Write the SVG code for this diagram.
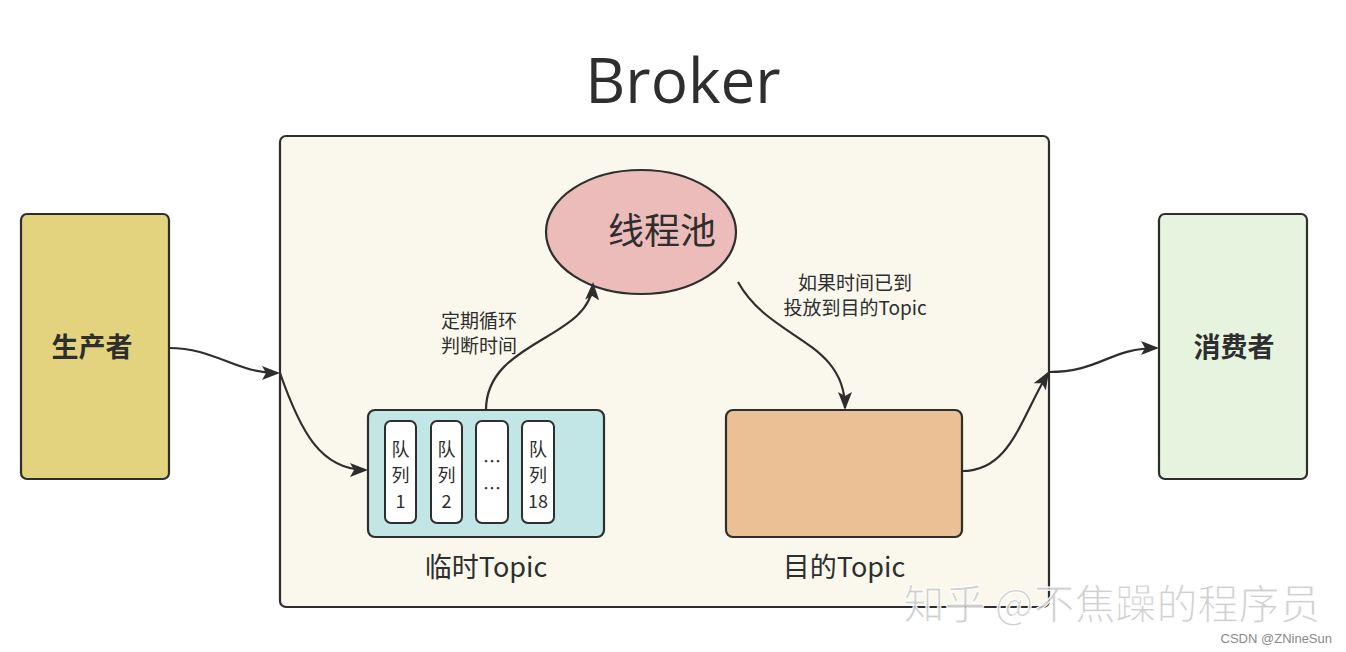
<svg xmlns="http://www.w3.org/2000/svg" width="1346" height="652" viewBox="0 0 1346 652">
<style>
.box{stroke:#2e2e2e;stroke-width:2.2}
.t{font-family:"Noto Sans CJK SC","Noto Sans",sans-serif;fill:#2e2e2e}
.c{fill:none;stroke:#2e2e2e;stroke-width:2.2}
.q{fill:#fff;stroke:#2e2e2e;stroke-width:2}
</style>
<defs>
<marker id="ah" viewBox="0 0 18 14" refX="16" refY="7" markerWidth="18" markerHeight="14" markerUnits="userSpaceOnUse" orient="auto">
<path d="M0,0 L18,7 L0,14 L4,7 z" fill="#2e2e2e"/>
</marker>
</defs>
<rect width="1346" height="652" fill="#fff"/>
<text x="683" y="103" font-size="62" text-anchor="middle" fill="#2e2e2e" font-family="'Open Sans','Noto Sans',sans-serif">Broker</text>
<g id="broker">
<rect class="box" x="280" y="136" width="769" height="471" rx="6" fill="#faf8ec"/>
</g>
<g id="producer">
<rect class="box" x="21" y="214" width="148" height="265" rx="6" fill="#e3d37e"/>
<text class="t" x="92" y="357" font-size="27" font-weight="bold" text-anchor="middle">生产者</text>
</g>
<g id="consumer">
<rect class="box" x="1159" y="214" width="148" height="265" rx="6" fill="#e6f3df"/>
<text class="t" x="1234" y="357" font-size="27" font-weight="bold" text-anchor="middle">消费者</text>
</g>
<g id="threadpool">
<ellipse class="box" cx="641" cy="232" rx="95" ry="62" fill="#ecbcba"/>
<text class="t" x="662" y="244" font-size="36" text-anchor="middle">线程池</text>
</g>
<g id="tempTopic">
<rect class="box" x="368" y="410" width="236" height="127" rx="7" fill="#c1e6e5"/>
<rect class="q" x="385" y="421" width="31" height="102" rx="6"/>
<rect class="q" x="431" y="421" width="31" height="102" rx="6"/>
<rect class="q" x="476" y="421" width="32" height="102" rx="6"/>
<rect class="q" x="522" y="421" width="32" height="102" rx="6"/>
<g class="t" font-size="18" text-anchor="middle">
<text x="400.5" y="456">队</text><text x="400.5" y="482">列</text><text x="400.5" y="508">1</text>
<text x="446.5" y="456">队</text><text x="446.5" y="482">列</text><text x="446.5" y="508">2</text>
<text x="492" y="468">…</text><text x="492" y="495">…</text>
<text x="538" y="456">队</text><text x="538" y="482">列</text><text x="538" y="508">18</text>
</g>
<text class="t" x="486" y="577" font-size="27" text-anchor="middle">临时Topic</text>
</g>
<g id="targetTopic">
<rect class="box" x="726" y="410" width="236" height="127" rx="7" fill="#ebc094"/>
<text class="t" x="844" y="577" font-size="27" text-anchor="middle">目的Topic</text>
</g>
<g id="connectors">
<path class="c" d="M169,348 C215,348 235,373 278,373" marker-end="url(#ah)"/>
<path class="c" d="M280,373 C300,430 320,470 366,470" marker-end="url(#ah)"/>
<path class="c" d="M486,410 C486,340 590,340 593,284" marker-end="url(#ah)"/>
<path class="c" d="M738,282 C770,340 845,340 845,408" marker-end="url(#ah)"/>
<path class="c" d="M962,471 C1010,471 1020,420 1048,373" marker-end="url(#ah)"/>
<path class="c" d="M1049,372 C1100,372 1110,348 1157,348" marker-end="url(#ah)"/>
</g>
<g id="labels" class="t" font-size="19">
<text x="479" y="328" text-anchor="middle">定期循环</text>
<text x="479" y="353" text-anchor="middle">判断时间</text>
<text x="855" y="290" text-anchor="middle">如果时间已到</text>
<text x="855" y="315" text-anchor="middle">投放到目的Topic</text>
</g>
<g id="watermark">
<text x="1112" y="619" font-size="41" text-anchor="middle" font-family="'Noto Sans CJK SC',sans-serif" fill="#c8c8c8" fill-opacity="0.85" stroke="#fff" stroke-width="1">知乎 @不焦躁的程序员</text>
<text x="1332" y="643" font-size="13" text-anchor="end" font-family="'Liberation Sans',sans-serif" fill="#8a8a8a">CSDN @ZNineSun</text>
</g>
</svg>
